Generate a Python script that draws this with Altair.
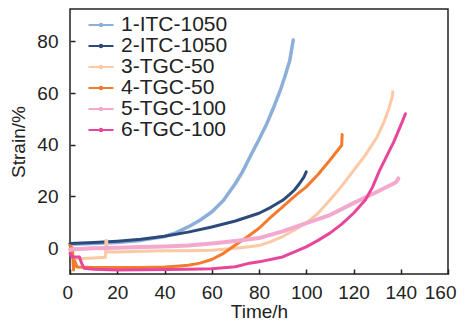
import altair as alt
import pandas as pd

names = ["1-ITC-1050", "2-ITC-1050", "3-TGC-50", "4-TGC-50", "5-TGC-100", "6-TGC-100"]
colors = ["#8CAFDA", "#2C4B7B", "#FCC9A5", "#F47A2E", "#F3A8CD", "#E6479A"]
widths = [3.5, 3, 3, 3, 4, 3]

t1 = [0, 10, 20, 30, 40, 45, 50, 55, 60, 65, 70, 73, 76, 80, 83, 86, 89, 91, 93, 94.5]
s1 = [1.5, 1.8, 2.2, 3.0, 4.5, 6.0, 8.2, 10.8, 14.0, 18.5, 25, 29.5, 35, 42, 47.5, 54, 61, 66.5, 72.5, 80.5]

t2 = [0, 10, 20, 30, 40, 50, 60, 70, 80, 85, 90, 93, 95, 97, 99, 100]
s2 = [1.8, 2.2, 2.7, 3.4, 4.6, 6.2, 8.2, 10.5, 13.5, 15.8, 18.5, 20.8, 22.5, 24.8, 27.5, 29.5]

t3 = [0, 0.8, 1.2, 5, 10, 15, 15.2, 15.5, 15.8, 20, 30, 40, 50, 60, 70, 76, 80, 85, 90, 95, 100, 105, 110, 115, 120, 125, 130, 133, 135, 136.5, 136.6]
s3 = [-1, 0.5, -4, -4, -3.8, -3.5, 3, 3, -1.5, -1.5, -1.2, -1.0, -1.0, -0.8, 0, 0.5, 1.0, 2.5, 4.5, 7.0, 9.7, 13.5, 18.6, 24, 30, 36, 43, 49, 54, 59, 60.5]

t4 = [0, 1, 1.5, 2, 3, 10, 20, 30, 40, 45, 50, 55, 60, 65, 70, 76, 80, 85, 90, 95, 100, 105, 110, 115, 115.2]
s4 = [1, 0, -8.5, -5, -7.3, -7.5, -7.5, -7.5, -7.3, -7.0, -6.6, -5.8, -4.4, -2.0, 1.2, 5.0, 7.7, 12, 16, 20, 23.7, 28.5, 34, 39.8, 44]

t5 = [0, 10, 20, 30, 40, 50, 60, 70, 80, 90, 100, 110, 120, 130, 138, 139]
s5 = [-0.5, 0, 0.2, 0.4, 0.6, 1.0, 1.8, 2.8, 3.9, 6.5, 9.7, 12.8, 17.4, 21.8, 25.5, 27]

t6 = [0, 1, 4, 5, 6, 10, 20, 30, 40, 50, 60, 70, 76, 80, 90, 100, 105, 110, 115, 120, 125, 128, 131, 134, 137, 140, 142]
s6 = [-2, -3.4, -3.4, -6, -7.8, -8.2, -8.5, -8.4, -8.3, -8.2, -8.0, -7.2, -5.8, -5.3, -3.4, 0.5, 3.0, 5.8, 9.3, 13.5, 18.6, 23.5, 30, 35.5, 41, 47.5, 52]

ts = [t1, t2, t3, t4, t5, t6]
ss = [s1, s2, s3, s4, s5, s6]

rows = []
for i, (n, tt, sv) in enumerate(zip(names, ts, ss)):
    for j, (a, b) in enumerate(zip(tt, sv)):
        rows.append({"series": n, "order": i, "idx": j, "t": a, "s": b, "w": widths[i]})
df = pd.DataFrame(rows)

x_ticks = [0, 20, 40, 60, 80, 100, 120, 140, 160]
y_ticks = [0, 20, 40, 60, 80]

# symbol: a line with a small dot, drawn wider than its nominal size
dot_line = "M-2.5,0L2.5,0M-0.25,0A0.25,0.25,0,1,1,0.25,0A0.25,0.25,0,1,1,-0.25,0"

chart = alt.Chart(df).mark_line(strokeCap="round", strokeJoin="round").encode(
    x=alt.X("t:Q", scale=alt.Scale(domain=[0, 160], nice=False, zero=False),
            axis=alt.Axis(title="Time/h", values=x_ticks, offset=-5, tickSize=5, domain=False,
                          grid=False, labelPadding=9, titlePadding=0, format="d",
                          labelOverlap=False, labelBound=False,
                          labelFlush=True, labelFlushOffset=8)),
    y=alt.Y("s:Q", scale=alt.Scale(domain=[-10, 92.5], nice=False, zero=False),
            axis=alt.Axis(title="Strain/%", values=y_ticks, offset=-5, tickSize=5, domain=False,
                          grid=False, labelPadding=12, titlePadding=8, format="d",
                          labelOverlap=False)),
    color=alt.Color("series:N", scale=alt.Scale(domain=names, range=colors),
                    legend=alt.Legend(title=None, orient="none", legendX=13, legendY=5.5,
                                      symbolType=dot_line, symbolSize=100, symbolStrokeWidth=2,
                                      labelFontSize=21, rowPadding=-4, labelOffset=9.5,
                                      symbolOffset=7.5,
                                      labelColor="#222222", labelFont="Liberation Sans")),
    strokeWidth=alt.StrokeWidth("w:Q", scale=None, legend=None),
    detail="series:N",
    order="idx:Q",
).properties(
    width=378, height=265,
    padding={"left": 62, "top": 1, "right": 9, "bottom": 46},
    autosize=alt.AutoSizeParams(type="none"),
).configure(
    background="white"
).configure_view(
    stroke="#222222", strokeWidth=1.5
).configure_axis(
    labelFont="Liberation Sans", titleFont="Liberation Sans",
    labelFontSize=19, titleFontSize=19, labelColor="#222222", titleColor="#222222",
    tickColor="#222222", tickWidth=1.5, titleFontWeight="normal"
)

chart.save("out.html", embed_options={"renderer": "svg", "actions": False})
